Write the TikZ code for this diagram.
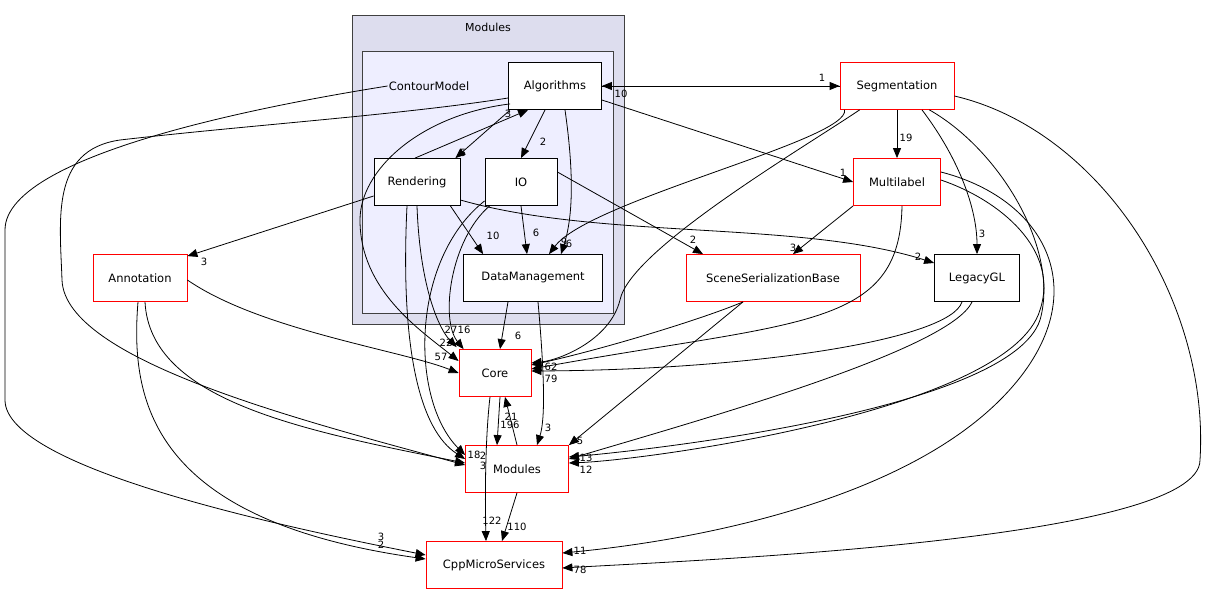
\documentclass[tikz,border=0pt]{standalone}
\usepackage{fontspec}
\setmainfont{DejaVu Sans}
\usetikzlibrary{arrows.meta,calc}
\begin{document}
\begin{tikzpicture}[x=1pt,y=-1pt,
 box/.style={draw=black,fill=white,minimum height=47pt,font=\fontsize{11.5}{13}\selectfont,inner sep=0pt,line width=0.8pt},
 rbox/.style={box,draw=red},
 e/.style={-{Triangle[length=10pt,width=8pt]},black,line width=0.8pt},
 l/.style={font=\fontsize{10}{11}\selectfont,inner sep=0pt}]
\useasboundingbox (0,0) rectangle (1216,596);
\fill[white] (0,0) rectangle (1216,596);
\draw[fill={rgb,255:red,221;green,221;blue,238},draw={rgb,255:red,64;green,64;blue,64},line width=1pt] (352,16) rectangle (624,324);
\node[font=\fontsize{11}{12}\selectfont] (mt) at (488,27) {Modules};
\draw[fill={rgb,255:red,238;green,238;blue,255},draw={rgb,255:red,64;green,64;blue,64},line width=1pt] (362,52) rectangle (613,313);
\node[font=\fontsize{11.5}{13}\selectfont,inner sep=1pt] (cm) at (429,86) {ContourModel};
\node[box,minimum width=93pt] (alg) at (555,86) {Algorithms};
\node[box,minimum width=86pt] (ren) at (417,182) {Rendering};
\node[box,minimum width=72pt] (io) at (521,182) {IO};
\node[box,minimum width=139pt] (dm) at (533,278) {DataManagement};
\node[rbox,minimum width=114pt] (seg) at (897,86) {Segmentation};
\node[rbox,minimum width=87pt] (ml) at (897,182) {Multilabel};
\node[box,minimum width=85pt] (lgl) at (977,278) {LegacyGL};
\node[rbox,minimum width=174pt] (ssb) at (773,278) {SceneSerializationBase};
\node[rbox,minimum width=94pt] (ann) at (140,278) {Annotation};
\node[rbox,minimum width=72pt] (core) at (495,373) {Core};
\node[rbox,minimum width=103pt] (mod) at (517,469) {Modules};
\node[rbox,minimum width=136pt] (cpp) at (494,565) {CppMicroServices};
% ContourModel -> CppMS
\draw[e] (cm.west) .. controls (300,100) and (5,150) .. (5,230) -- (5,400) .. controls (5,470) and (300,530) .. ($(cpp.west)+(0,-10)$);
\node[l] at (381,537) {3};
% Algorithms <-> Segmentation
\draw[e] (alg.east) -- (seg.west);
\draw[e] (seg.west) -- (alg.east);
\node[l] at (822,78) {1}; \node[l] at (621,94) {10};
\draw[e] ($(alg.south west)+(1,1)$) -- ($(ren.north east)+(-5,0)$);
\node[l] at (463,153) {5};
\draw[e] ($(ren.north)+(-2,0)$) -- ($(alg.south west)+(20,0)$);
\node[l] at (508,114) {3};
\draw[e] ($(alg.south)+(-10,0)$) -- (io.north); \node[l] at (543,142) {2};
\draw[e] ($(alg.south)+(10,0)$) .. controls (575,180) and (572,220) .. ($(dm.north)+(28,0)$);
\node[l] at (564,242) {9};
\draw[e] ($(alg.east)+(0,14)$) -- (ml.west); \node[l] at (843,173) {1};
\draw[e] ($(alg.south west)+(2,-6)$) .. controls (420,115) and (360,170) .. (360,220) .. controls (360,290) and (420,330) .. ($(core.west)+(0,-12)$);
\node[l] at (451,330) {27};
\draw[e] ($(alg.west)+(0,12)$) .. controls (400,115) and (250,125) .. (120,140) .. controls (50,150) and (60,220) .. (62,280) .. controls (65,360) and (300,420) .. ($(mod.west)+(0,-4)$);
\node[l] at (474,455) {18};
% Rendering
\draw[e] ($(ren.west)+(0,14)$) -- ($(ann.north east)+(0,2)$); \node[l] at (204,262) {3};
\draw[e] ($(ren.south east)+(-10,0)$) -- ($(dm.north west)+(20,0)$); \node[l] at (493,236) {10};
\draw[e] ($(ren.east)+(0,18)$) .. controls (600,240) and (800,220) .. ($(lgl.west)+(0,-15)$); \node[l] at (918,257) {2};
\draw[e] ($(ren.south)+(0,0)$) .. controls (420,290) and (440,330) .. ($(core.north west)+(-2,-2)$); \node[l] at (446,343) {22};
\draw[e] ($(ren.south)+(-10,0)$) .. controls (400,350) and (420,430) .. ($(mod.west)+(0,-10)$); \node[l] at (483,456) {2};
% IO
\draw[e] (io.south) -- ($(dm.north)+(-6,0)$); \node[l] at (536,233) {6};
\draw[e] ($(io.south west)+(5,0)$) .. controls (450,240) and (440,320) .. ($(core.north west)+(5,0)$); \node[l] at (464,330) {16};
\draw[e] ($(io.south west)+(0,-5)$) .. controls (410,260) and (410,400) .. ($(mod.west)+(0,-14)$); \node[l] at (483,466) {3};
\draw[e] ($(io.east)+(0,-10)$) -- ($(ssb.north)+(-70,0)$); \node[l] at (693,240) {2};
% DM
\draw[e] ($(dm.south)+(-25,0)$) -- ($(core.north)+(5,0)$); \node[l] at (518,336) {6};
\draw[e] ($(dm.south)+(5,0)$) .. controls (545,380) and (545,420) .. ($(mod.north)+(20,0)$); \node[l] at (548,428) {3};
% Segmentation
\draw[e] (seg.south) -- (ml.north); \node[l] at (906,138) {19};
\draw[e] ($(seg.south)+(25,0)$) .. controls (960,160) and (977,210) .. (lgl.north); \node[l] at (982,234) {3};
\draw[e] ($(seg.south west)+(5,0)$) .. controls (850,140) and (590,200) .. ($(dm.north)+(16,0)$); \node[l] at (569,244) {6};
\draw[e] ($(seg.south west)+(20,0)$) .. controls (800,150) and (630,250) .. (620,300) .. controls (610,340) and (560,360) .. ($(core.east)+(0,-10)$);
\node[l] at (551,367) {62};
\draw[e] ($(seg.south east)+(-25,0)$) .. controls (1000,150) and (1060,250) .. (1040,320) .. controls (1010,410) and (650,450) .. ($(mod.east)+(0,-12)$);
\node[l] at (586,458) {13};
\draw[e] ($(seg.east)+(0,10)$) .. controls (1100,130) and (1210,300) .. (1200,460) .. controls (1200,540) and (700,560) .. ($(cpp.east)+(0,3)$);
\node[l] at (580,570) {78};
% Multilabel
\draw[e] ($(ml.south west)+(0,0)$) -- ($(ssb.north)+(20,0)$); \node[l] at (793,248) {3};
\draw[e] ($(ml.south)+(5,0)$) .. controls (900,330) and (800,320) .. ($(core.east)+(0,-4)$);
\draw[e] ($(ml.east)+(0,-2)$) .. controls (1000,200) and (1060,250) .. (1040,310) .. controls (1010,410) and (650,460) .. ($(mod.east)+(0,-6)$);
\node[l] at (586,470) {12};
\draw[e] ($(ml.east)+(0,-10)$) .. controls (1050,200) and (1100,300) .. (1000,400) .. controls (900,500) and (700,540) .. ($(cpp.east)+(0,-12)$);
\node[l] at (580,551) {11};
% LegacyGL
\draw[e] ($(lgl.south)+(-15,0)$) .. controls (950,340) and (750,370) .. ($(core.east)+(0,-2)$);
\node[l] at (551,379) {79};
\draw[e] ($(lgl.south)+(-5,0)$) .. controls (950,350) and (700,420) .. ($(mod.east)+(0,-10)$);
% SSB
\draw[e] ($(ssb.south)+(-30,0)$) .. controls (700,320) and (600,350) .. ($(core.east)+(0,-8)$);
\draw[e] ($(ssb.south)+(-30,0)$) -- ($(mod.north east)+(0,0)$); \node[l] at (580,441) {5};
% Annotation
\draw[e] ($(ann.east)+(0,2)$) .. controls (260,330) and (400,350) .. (core.west); \node[l] at (441,357) {57};
\draw[e] ($(ann.south)+(5,0)$) .. controls (150,400) and (300,430) .. ($(mod.west)+(0,-6)$);
\draw[e] ($(ann.south)+(-2,0)$) .. controls (130,400) and (150,520) .. ($(cpp.west)+(0,-6)$); \node[l] at (381,545) {2};
% Core / Modules / CppMS
\draw[e] ($(core.south)+(5,0)$) -- ($(mod.north)+(-20,0)$); \node[l] at (510,425) {196};
\draw[e] ($(mod.north)+(0,0)$) -- ($(core.south)+(10,0)$); \node[l] at (511,417) {21};
\draw[e] ($(core.south)+(-5,0)$) .. controls (485,440) and (485,500) .. ($(cpp.north)+(-8,0)$); \node[l] at (492,521) {122};
\draw[e] (mod.south) -- ($(cpp.north)+(8,0)$); \node[l] at (517,527) {110};
\end{tikzpicture}
\end{document}
